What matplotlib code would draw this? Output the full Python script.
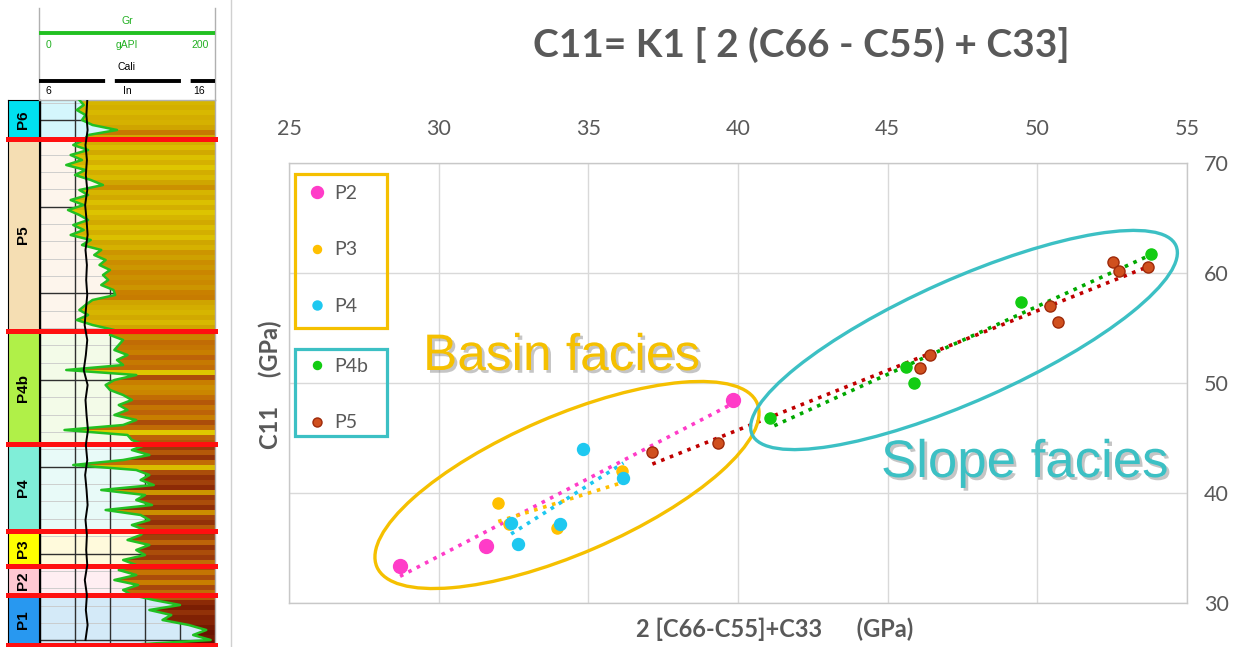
import numpy as np
import matplotlib
matplotlib.use("Agg")
import matplotlib.pyplot as plt
from matplotlib.patches import Ellipse, Rectangle, Polygon
from matplotlib.lines import Line2D
from matplotlib.colors import LinearSegmentedColormap
import matplotlib.patheffects as pe

# ---------------- scatter data ----------------
p2_x = [28.71, 31.57, 39.82]
p2_y = [33.36, 35.21, 48.45]
p3_x = [31.99, 32.35, 33.94, 36.11]
p3_y = [39.06, 37.20, 36.85, 42.03]
p4_x = [32.42, 32.66, 34.05, 34.81, 36.17]
p4_y = [37.30, 35.34, 37.18, 44.00, 41.34]
p4b_x = [41.07, 45.60, 45.89, 49.46, 53.80]
p4b_y = [46.79, 51.45, 50.03, 57.36, 61.70]
p5_x = [37.14, 39.32, 46.08, 46.42, 50.43, 50.70, 52.54, 52.73, 53.69]
p5_y = [43.73, 44.52, 51.34, 52.55, 57.00, 55.52, 61.03, 60.21, 60.52]

x_ticks = [25, 30, 35, 40, 45, 50, 55]
y_ticks = [30, 40, 50, 60, 70]

# ---------------- well log data ----------------
zone_names = ['P6', 'P5', 'P4b', 'P4', 'P3', 'P2', 'P1']
zone_top = [0, 39, 231, 344, 431, 466, 495]
zone_base = [39, 231, 344, 431, 466, 495, 545]
zone_colors = ['#00E1F0', '#F5DEB3', '#B0F048', '#80EED8', '#FFFF00', '#FFC8D2', '#2898F0']
zone_pale = ['#D4F6FC', '#FDF5EC', '#F3FBE8', '#E8FAF8', '#FFFADC', '#FFEEF2', '#D4EAF8']

gr_depth = np.arange(0, 550, 5)
gr = [45, 50, 42, 52, 48, 60, 88, 55,
      50, 38, 55, 35, 48, 30, 52, 40, 58, 72,
      45, 55, 35, 50, 32, 45, 55, 38, 50, 35,
      58, 48, 70, 62, 75, 68, 80, 72, 78, 70,
      84, 86, 60, 52, 45, 55, 42, 60, 85,
      80, 95, 90, 85, 100, 88, 95, 30, 110, 85,
      75, 80, 95, 105, 90, 100, 85, 110, 95, 28,
      100, 105,
      120, 105, 125, 95, 38, 110, 125, 115, 130, 70,
      120, 110, 128, 75, 115, 125, 105, 120,
      115, 100, 125, 110, 120, 95, 110,
      90, 110, 85, 112, 95, 105,
      130, 160, 125, 150, 140, 170, 190, 175, 195, 100]

cali_depth = np.arange(0, 550, 15)
cali = [8.70, 8.65, 8.72, 8.60, 8.68, 8.62, 8.70, 8.58, 8.66, 8.72,
        8.60, 8.68, 8.64, 8.70, 8.62, 8.55, 8.70, 8.62, 8.50, 8.72,
        8.60, 8.66, 8.74, 8.62, 8.70, 8.58, 8.66, 8.72, 8.60, 8.68,
        8.64, 8.70, 8.56, 8.68, 8.62, 8.72, 8.60]

W, H = 1247, 647
fig = plt.figure(figsize=(W / 100, H / 100), dpi=100)
fig.patch.set_facecolor('white')

GRAY = '#595959'
YEL = '#F5C000'
TEAL = '#3CC0C4'
CHART_FONT = ['Lato', 'DejaVu Sans']

def px_axes(x0, y0, x1, y1):
    return [x0 / W, (H - y1) / H, (x1 - x0) / W, (y1 - y0) / H]

# ---------------- main scatter axes ----------------
ax = fig.add_axes(px_axes(289, 163, 1187, 603))
ax.set_xlim(25, 55)
ax.set_ylim(30, 70)
ax.set_xticks(x_ticks)
ax.set_yticks(y_ticks)
ax.grid(True, color='#D9D9D9', lw=1.0, zorder=0)
ax.set_axisbelow(True)
for s in ax.spines.values():
    s.set_color('#C8C8C8')
    s.set_linewidth(1.0)
ax.xaxis.tick_top()
ax.yaxis.tick_right()
ax.tick_params(axis='x', length=0, pad=17, labelsize=15.5, labelcolor=GRAY)
ax.tick_params(axis='y', length=0, pad=12, labelsize=15.5, labelcolor=GRAY)
for lab in ax.get_xticklabels() + ax.get_yticklabels():
    lab.set_family(CHART_FONT)

ax.set_xlabel('2 [C66-C55]+C33      (GPa)', fontsize=17, fontweight='bold',
              color=GRAY, family=CHART_FONT)
ax.xaxis.set_label_position('bottom')
ax.xaxis.set_label_coords((775 - 289) / 898, -0.033)
ax.set_ylabel('C11     (GPa)', fontsize=17, fontweight='bold', color=GRAY,
              family=CHART_FONT)
ax.yaxis.set_label_position('left')
ax.yaxis.set_label_coords(-0.008, (603 - 385) / 440)

series = [
    ('P2', p2_x, p2_y, '#FF3CC8', '#FF3CC8', 100, '#FF3CC8', 8.6),
    ('P3', p3_x, p3_y, '#FFC000', '#FFC000', 64, '#FFC000', 5.8),
    ('P4', p4_x, p4_y, '#1EC8F0', '#1EC8F0', 74, '#1EC8F0', 6.5),
    ('P4b', p4b_x, p4b_y, '#12CC12', '#12CC12', 64, '#00A800', 5.8),
    ('P5', p5_x, p5_y, '#D0501E', '#9E2A0A', 64, '#C00000', 6.5),
]

handles = {}
for name, xs, ys, fc, ec, size, lc, msz in series:
    xs = np.asarray(xs)
    ys = np.asarray(ys)
    ax.scatter(xs, ys, s=size, color=fc, edgecolors=ec, linewidths=1.0, zorder=4)
    k, b = np.polyfit(xs, ys, 1)
    xl = np.array([xs.min(), xs.max()])
    offset = 1.3 if name == 'P4b' else 0
    ax.plot(xl, k * xl + b, color=lc, lw=2.6, linestyle=(offset, (1, 1.6)),
            dash_capstyle='butt', zorder=3)
    handles[name] = Line2D([], [], marker='o', linestyle='none', markersize=msz,
                           markerfacecolor=fc, markeredgecolor=ec,
                           markeredgewidth=1.0)

leg_kw = dict(frameon=False, labelspacing=2.03, handlelength=1.0,
              handletextpad=0.4, borderpad=0, borderaxespad=0,
              labelcolor=GRAY, prop={'family': CHART_FONT, 'size': 14})
leg1 = ax.legend([handles[n] for n in ['P2', 'P3', 'P4']], ['P2', 'P3', 'P4'],
                 loc='upper left', bbox_to_anchor=((307 - 289) / 898, (603 - 185) / 440),
                 **leg_kw)
ax.add_artist(leg1)
leg2 = ax.legend([handles[n] for n in ['P4b', 'P5']], ['P4b', 'P5'],
                 loc='upper left', bbox_to_anchor=((307 - 289) / 898, (603 - 358) / 440),
                 **leg_kw)

fig.text(801 / W, 1 - 45 / H, 'C11= K1 [ 2 (C66 - C55) + C33]', ha='center',
         va='center', fontsize=28, fontweight='bold', color=GRAY, family=CHART_FONT)

# ---------------- well log ----------------
bottom_d = zone_base[-1]
zax = fig.add_axes(px_axes(8, 100, 39, 645))
tax = fig.add_axes(px_axes(40, 100, 215, 645))
for a in (zax, tax):
    a.set_ylim(bottom_d, 0)
    a.set_xticks([])
    a.set_yticks([])
zax.set_xlim(0, 1)
tax.set_xlim(0, 200)
for s in zax.spines.values():
    s.set_color('black'); s.set_linewidth(0.8)
for s in tax.spines.values():
    s.set_color('#B0B0B0'); s.set_linewidth(1.0)
tax.spines['left'].set_color('black')

for name, t, bse, c, pc in zip(zone_names, zone_top, zone_base, zone_colors, zone_pale):
    zax.axhspan(t, bse, color=c, zorder=1)
    zax.text(0.5, (t + bse) / 2, name, rotation=90, ha='center', va='center',
             fontsize=11, fontweight='bold', family=['Liberation Sans', 'DejaVu Sans'],
             zorder=3)
    tax.axhspan(t, bse, color=pc, zorder=0)

# grid lines in the track
minor = np.arange(20 - 17.34, bottom_d, 17.34)
for i, d in enumerate(minor):
    major = (i % 5 == 1)
    tax.axhline(d, color='#303030' if major else '#C8C8C8',
                lw=1.0 if major else 0.6, zorder=1)
for g in [40, 80, 120, 160]:
    tax.axvline(g, color='#303030', lw=1.0, zorder=1)

# coloured fill right of GR curve
gr_arr = np.asarray(gr, dtype=float)
gr_cmap = LinearSegmentedColormap.from_list('gr', [
    (0.0, '#F2E400'), (0.15, '#DEC600'), (0.3, '#CFA400'), (0.42, '#C98000'),
    (0.5, '#BE6408'), (0.58, '#A0400C'), (0.66, '#8A2806'), (1.0, '#661000')])
img = gr_cmap(gr_arr / 200.0)[:, :3].reshape(-1, 1, 3)
im = tax.imshow(img, extent=[0, 200, gr_depth[-1] + 5, gr_depth[0]], aspect='auto',
                interpolation='nearest', zorder=2)
poly_xy = np.vstack([np.column_stack([gr_arr, gr_depth]),
                     [[200, gr_depth[-1]], [200, gr_depth[0]]]])
clip = Polygon(poly_xy, closed=True, transform=tax.transData, facecolor='none',
               edgecolor='none')
tax.add_patch(clip)
im.set_clip_path(clip)
tax.set_xlim(0, 200)
tax.set_ylim(bottom_d, 0)

tax.plot(gr_arr, gr_depth, color='#22C022', lw=1.8, zorder=4)

cax = tax.twiny()
cax.set_xlim(6, 16)
cax.set_ylim(bottom_d, 0)
cax.axis('off')
cax.plot(cali, cali_depth, color='black', lw=1.4, zorder=5)

for bse in zone_base:
    for a in (zax, tax):
        a.axhline(bse, color='#FF1010', lw=3.6, zorder=6, clip_on=False)

# ---------------- overlay (decoration in pixel space) ----------------
ov = fig.add_axes([0, 0, 1, 1], zorder=10)
ov.set_xlim(0, W)
ov.set_ylim(H, 0)
ov.axis('off')
ov.patch.set_alpha(0)

# log header
ov.plot([39, 39], [8, 100], color='#B0B0B0', lw=1)
ov.plot([215, 215], [8, 100], color='#B0B0B0', lw=1)
ov.plot([231, 231], [0, H], color='#D0D0D0', lw=1)
hfont = dict(fontsize=7.5, family=['Liberation Sans', 'DejaVu Sans'])
ov.text(127, 21, 'Gr', color='#22B022', ha='center', va='center', **hfont)
ov.plot([39, 215], [33, 33], color='#22C022', lw=2.8, solid_capstyle='butt')
ov.text(48, 45, '0', color='#22B022', ha='center', va='center', **hfont)
ov.text(127, 45, 'gAPI', color='#22B022', ha='center', va='center', **hfont)
ov.text(200, 45, '200', color='#22B022', ha='center', va='center', **hfont)
ov.text(127, 67, 'Cali', color='black', ha='center', va='center', **hfont)
ov.plot([39, 215], [81, 81], color='black', lw=2.8, linestyle=(0, (17, 2.5)),
        solid_capstyle='butt', dash_capstyle='butt')
ov.text(48, 91, '6', color='black', ha='center', va='center', **hfont)
ov.text(127, 91, 'In', color='black', ha='center', va='center', **hfont)
ov.text(199, 91, '16', color='black', ha='center', va='center', **hfont)

# legend frames
ov.add_patch(Rectangle((295, 174), 92, 154, fill=False, edgecolor=YEL, lw=2.3))
ov.add_patch(Rectangle((295, 349), 92, 87, fill=False, edgecolor=TEAL, lw=2.3))

# facies ellipses
ov.add_patch(Ellipse((567, 485), width=414, height=138, angle=-23.3, fill=False,
                     edgecolor=YEL, lw=2.4))
ov.add_patch(Ellipse((964, 340), width=464, height=122, angle=-24.0, fill=False,
                     edgecolor=TEAL, lw=2.4))

shadow = [pe.withSimplePatchShadow(offset=(2, -2), shadow_rgbFace='#808080', alpha=0.45)]
ov.text(423, 370, 'Basin facies', color=YEL, fontsize=37, ha='left', va='baseline',
        family=['Liberation Sans', 'DejaVu Sans'], path_effects=shadow)
ov.text(881, 477, 'Slope facies', color=TEAL, fontsize=38, ha='left', va='baseline',
        family=['Liberation Sans', 'DejaVu Sans'], path_effects=shadow)

fig.savefig('out.png', dpi=100)
